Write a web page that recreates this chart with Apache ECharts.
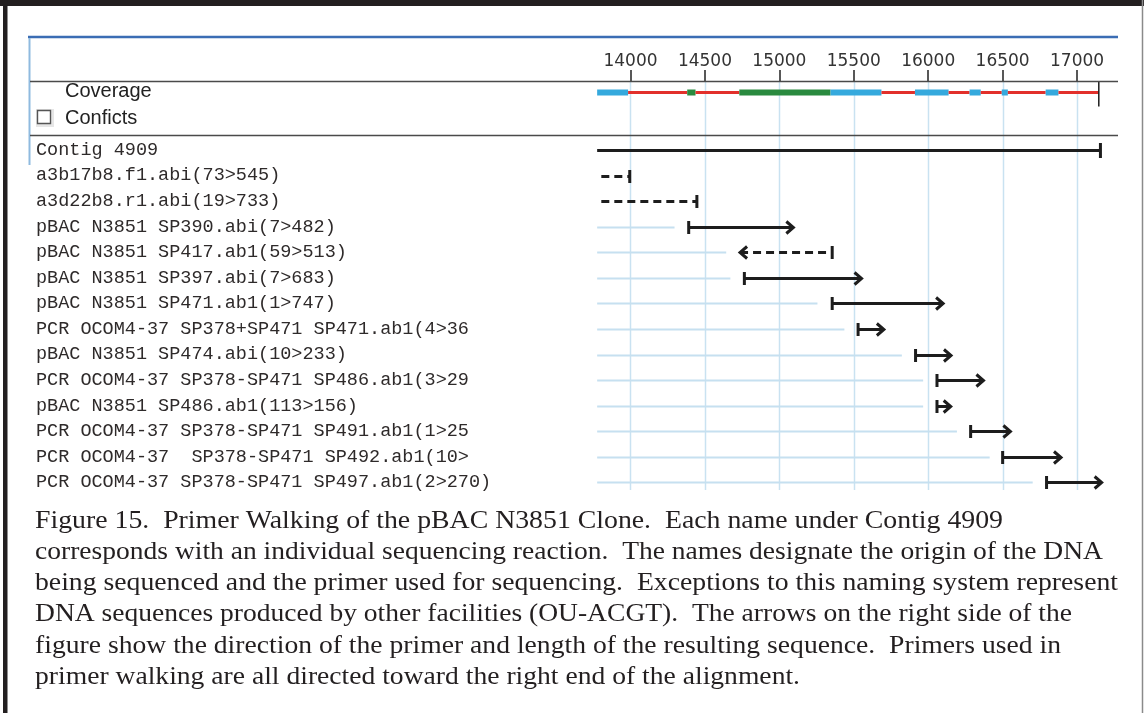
<!DOCTYPE html>
<html>
<head>
<meta charset="utf-8">
<script src="https://cdn.jsdelivr.net/npm/echarts@6/dist/echarts.min.js"></script>
<style>
html,body{margin:0;padding:0;background:#fff;}
#chart{width:1144px;height:713px;}
</style>
</head>
<body>
<div id="chart"></div>
<script>
// ---------------- data ----------------
const tickValues = [14000, 14500, 15000, 15500, 16000, 16500, 17000];
const rowNames = [
  'Contig 4909',
  'a3b17b8.f1.abi(73>545)',
  'a3d22b8.r1.abi(19>733)',
  'pBAC N3851 SP390.abi(7>482)',
  'pBAC N3851 SP417.ab1(59>513)',
  'pBAC N3851 SP397.abi(7>683)',
  'pBAC N3851 SP471.ab1(1>747)',
  'PCR OCOM4-37 SP378+SP471 SP471.ab1(4>36',
  'pBAC N3851 SP474.abi(10>233)',
  'PCR OCOM4-37 SP378-SP471 SP486.ab1(3>29',
  'pBAC N3851 SP486.ab1(113>156)',
  'PCR OCOM4-37 SP378-SP471 SP491.ab1(1>25',
  'PCR OCOM4-37  SP378-SP471 SP492.ab1(10>',
  'PCR OCOM4-37 SP378-SP471 SP497.ab1(2>270)'
];
const readStart   = [13776, 13804, 13804, 14391, 14736, 14765, 15355, 15529, 15915, 16059, 16059, 16285, 16500, 16795];
const readEnd     = [17157, 13995, 14446, 15094, 15355, 15552, 16100, 15702, 16153, 16371, 16151, 16552, 16892, 17165];
const readTrimEnd = [0, 0, 0, 14296, 14643, 14671, 15256, 15437, 15823, 15966, 15966, 16193, 16413, 16702];
const readDir     = [0, -1, -1, 1, -1, 1, 1, 1, 1, 1, 1, 1, 1, 1];
const readDashed  = [0, 1, 1, 0, 1, 0, 0, 0, 0, 0, 0, 0, 0, 0];
const readHead    = [0, 0, 0, 1, 1, 1, 1, 1, 1, 1, 1, 1, 1, 1];

// coverage segments: kind 0 = red, 1 = blue, 2 = green
const covStart = [13776, 13984, 14381, 14437, 14731, 15344, 15686, 15911, 16137, 16278, 16353, 16494, 16535, 16789, 16875];
const covEnd   = [13984, 14381, 14437, 14731, 15344, 15686, 15911, 16137, 16278, 16353, 16494, 16535, 16789, 16875, 17146];
const covKind  = [1, 0, 2, 0, 2, 1, 0, 1, 0, 1, 0, 1, 0, 1, 0];

const captionLines = [
  'Figure 15.  Primer Walking of the pBAC N3851 Clone.  Each name under Contig 4909',
  'corresponds with an individual sequencing reaction.  The names designate the origin of the DNA',
  'being sequenced and the primer used for sequencing.  Exceptions to this naming system represent',
  'DNA sequences produced by other facilities (OU-ACGT).  The arrows on the right side of the',
  'figure show the direction of the primer and length of the resulting sequence.  Primers used in',
  'primer walking are all directed toward the right end of the alignment.'
];
const captionRight = [1003, 1103, 1118, 1072, 1061, 800];

// ---------------- layout / style ----------------
const X_MIN = 13775, X_MAX = 17275;
const Y_MIN = -2.7, Y_MAX = 13.3;
const COV_ROW = -2.25;
const covColors = ['#e2302b', '#35a9dd', '#2a8a3f'];
const INK = '#1d1d1d';

const readData = rowNames.map((n, i) => [i, readStart[i], readEnd[i], readTrimEnd[i], readDir[i], readDashed[i], readHead[i]]);
const covData = covStart.map((s, i) => [s, covEnd[i], covKind[i]]);

function renderRead(params, api) {
  const row = api.value(0), s = api.value(1), e = api.value(2), te = api.value(3);
  const dir = api.value(4), dashed = api.value(5), head = api.value(6);
  const ps = api.coord([s, row]), pe = api.coord([e, row]);
  const y = Math.round(ps[1]) + 0.5;
  const xs = ps[0], xe = pe[0];
  const ch = [];
  if (te > 0) {
    const x0 = api.coord([covStart[0], row])[0];
    const xt = api.coord([te, row])[0];
    ch.push({type: 'line', shape: {x1: x0, y1: y, x2: xt, y2: y}, style: {stroke: '#c6e0f0', lineWidth: 2}});
  }
  ch.push({type: 'line', shape: {x1: xs, y1: y, x2: xe, y2: y},
    style: {stroke: INK, lineWidth: 3, lineDash: dashed ? [8, 5] : null}});
  const capH = dir === 0 ? 7.5 : 6.5;
  const capX = dir === 1 ? xs : xe;
  ch.push({type: 'line', shape: {x1: capX, y1: y - capH, x2: capX, y2: y + capH}, style: {stroke: INK, lineWidth: 3}});
  if (head) {
    let pts;
    if (dir === 1) pts = [[xe - 7, y - 6], [xe, y], [xe - 7, y + 6]];
    else pts = [[xs + 7, y - 6], [xs, y], [xs + 7, y + 6]];
    ch.push({type: 'polyline', shape: {points: pts}, style: {stroke: INK, lineWidth: 3, fill: null, lineJoin: 'miter'}});
  }
  return {type: 'group', children: ch};
}

function renderCov(params, api) {
  const s = api.value(0), e = api.value(1), k = api.value(2);
  const p0 = api.coord([s, COV_ROW]), p1 = api.coord([e, COV_ROW]);
  const h = k === 0 ? 3 : 6;
  const ch = [{type: 'rect', shape: {x: p0[0], y: p0[1] - h / 2, width: p1[0] - p0[0], height: h}, style: {fill: covColors[k]}}];
  if (params.dataIndex === covStart.length - 1) {
    const top = api.coord([e, Y_MIN])[1];
    const bot = api.coord([e, COV_ROW + 0.55])[1];
    ch.push({type: 'line', shape: {x1: p1[0], y1: top, x2: p1[0], y2: bot}, style: {stroke: INK, lineWidth: 1.5}});
  }
  return {type: 'group', children: ch};
}

function renderGrid(params, api) {
  const v = api.value(0);
  const a = api.coord([v, Y_MIN]), b = api.coord([v, Y_MAX]);
  const x = Math.round(a[0]) + 0.5;
  return {type: 'line', shape: {x1: x, y1: a[1], x2: x, y2: b[1]}, style: {stroke: '#c9e2f1', lineWidth: 1.5}};
}

// caption text, stretched horizontally to the reference line widths
const CAP_FONT_SIZE = 26;
const CAP_FONT = CAP_FONT_SIZE + 'px "Liberation Serif", "Times New Roman", serif';
const mctx = document.createElement('canvas').getContext('2d');
mctx.font = CAP_FONT;
const captionGraphics = captionLines.map((t, i) => {
  const w = mctx.measureText(t).width;
  const target = captionRight[i] - 35;
  return {
    type: 'text', x: 35, y: 521 + i * 31.2, scaleX: target / w, originX: 0,
    style: {text: t, font: CAP_FONT, fill: '#231f20', verticalAlign: 'middle', align: 'left'}
  };
});

const chart = echarts.init(document.getElementById('chart'), null, {renderer: 'canvas'});
chart.setOption({
  animation: false,
  backgroundColor: '#ffffff',
  grid: {left: 597, right: 26, top: 81, height: 409, containLabel: false},
  xAxis: {
    type: 'value', position: 'top', min: X_MIN, max: X_MAX,
    axisLine: {show: false, onZero: false},
    axisTick: {show: true, customValues: tickValues, length: 11, lineStyle: {color: '#222', width: 1.5}},
    axisLabel: {customValues: tickValues, margin: 11, color: '#333', fontFamily: 'DejaVu Sans', fontSize: 17,
      formatter: v => String(v)},
    splitLine: {show: false}
  },
  yAxis: {
    type: 'value', inverse: true, min: Y_MIN, max: Y_MAX,
    axisLine: {show: false, onZero: false}, axisTick: {show: false}, splitLine: {show: false},
    axisLabel: {
      customValues: rowNames.map((n, i) => i),
      formatter: v => rowNames[Math.round(v)] || '',
      align: 'left', margin: 561, color: '#2e2a2a',
      fontFamily: 'Liberation Mono', fontSize: 18.5
    }
  },
  graphic: [
    {type: 'rect', shape: {x: 0, y: 0, width: 1144, height: 6}, style: {fill: '#231f20'}, z: 100},
    {type: 'rect', shape: {x: 3, y: 0, width: 4.5, height: 713}, style: {fill: '#231f20'}, z: 100},
    {type: 'line', shape: {x1: 1142.5, y1: 0, x2: 1142.5, y2: 713}, style: {stroke: '#8a8a8a', lineWidth: 1.5}, z: 100},
    {type: 'line', shape: {x1: 28, y1: 37, x2: 1118, y2: 37}, style: {stroke: '#3b6db4', lineWidth: 2.5}, z: 100},
    {type: 'line', shape: {x1: 29.5, y1: 38, x2: 29.5, y2: 165}, style: {stroke: '#8fbadf', lineWidth: 2}, z: 100},
    {type: 'line', shape: {x1: 30, y1: 81.5, x2: 1118, y2: 81.5}, style: {stroke: '#4a4a4a', lineWidth: 1.5}, z: 100},
    {type: 'line', shape: {x1: 30, y1: 135.5, x2: 1118, y2: 135.5}, style: {stroke: '#4a4a4a', lineWidth: 1.5}, z: 100},
    {type: 'text', x: 65, y: 91, style: {text: 'Coverage', font: '20px "Liberation Sans"', fill: '#222', verticalAlign: 'middle'}, z: 100},
    {type: 'text', x: 65, y: 118, style: {text: 'Conficts', font: '20px "Liberation Sans"', fill: '#222', verticalAlign: 'middle'}, z: 100},
    {type: 'rect', shape: {x: 36, y: 109, width: 18, height: 18}, style: {fill: '#e6e6e6'}, z: 100},
    {type: 'rect', shape: {x: 37.5, y: 110.5, width: 13, height: 13}, style: {fill: '#fff', stroke: '#555', lineWidth: 1.4}, z: 101}
  ].concat(captionGraphics),
  series: [
    {type: 'custom', name: 'grid', data: tickValues.map(v => [v]), renderItem: renderGrid, z: 1, silent: true},
    {type: 'custom', name: 'coverage', data: covData, renderItem: renderCov, z: 3, silent: true,
      encode: {x: [0, 1], y: 2}},
    {type: 'custom', name: 'reads', data: readData, renderItem: renderRead, z: 4, silent: true,
      encode: {x: [1, 2], y: 0}}
  ]
});
</script>
</body>
</html>
